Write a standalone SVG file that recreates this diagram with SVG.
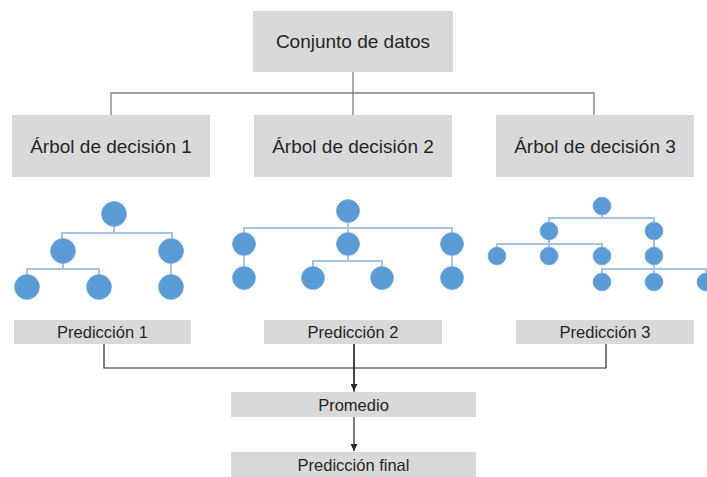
<svg xmlns="http://www.w3.org/2000/svg" width="707" height="477" viewBox="0 0 707 477">
<defs>
<style>
.box{fill:#D9D9D9}
.t{font-family:"Liberation Sans",Arial,sans-serif;fill:#262626;text-anchor:middle}
.big{font-size:19px}
.sm{font-size:16.5px}
.top{fill:none;stroke:#7F7F7F;stroke-width:1.3}
.bot{fill:none;stroke:#262626;stroke-width:1.2}
.tl{fill:none;stroke:#A5C4E4;stroke-width:2}
.c{fill:#5B9BD5;stroke:#7FB0DE;stroke-width:0.8}
</style>
<marker id="arr" viewBox="0 0 10 10" refX="10" refY="5" markerWidth="7" markerHeight="7" markerUnits="userSpaceOnUse" orient="auto">
<path d="M0,0 L10,5 L0,10 z" fill="#262626"/>
</marker>
</defs>
<rect width="707" height="477" fill="#FFFFFF"/>
<g id="connectors">
<path class="top" d="M353,72 V116 M111,116 V93 H594 V116"/>
<path class="bot" d="M104,344 V368 H606 V344 M354,344 V392"/>
<path class="bot" d="M354,344 V391" marker-end="url(#arr)"/>
<path class="bot" d="M354,417 V451" marker-end="url(#arr)"/>
</g>
<g id="dataset"><rect class="box" x="253" y="11" width="200" height="61"/><text class="t big" x="353" y="48">Conjunto de datos</text></g>
<g id="tree1"><rect class="box" x="12" y="115" width="198" height="62"/><text class="t big" x="111" y="153">Árbol de decisión 1</text></g>
<g id="tree2"><rect class="box" x="254" y="115" width="198" height="62"/><text class="t big" x="353" y="153">Árbol de decisión 2</text></g>
<g id="tree3"><rect class="box" x="496" y="115" width="198" height="62"/><text class="t big" x="595" y="153">Árbol de decisión 3</text></g>
<g id="graph1">
<path class="tl" d="M114,214 V233 M62,251 V233 H172 V251 M63,251 V269 M27,287 V269 H99 V287 M171,251 V287"/>
<circle class="c" cx="114" cy="214" r="12.5"/>
<circle class="c" cx="63" cy="251" r="12.5"/>
<circle class="c" cx="171" cy="251" r="12.5"/>
<circle class="c" cx="27" cy="287" r="12.5"/>
<circle class="c" cx="99" cy="287" r="12.5"/>
<circle class="c" cx="171" cy="287" r="12.5"/>
</g>
<g id="graph2">
<path class="tl" d="M348,211 V228 M244,244 V228 H452 V244 M348,228 V244 M244,244 V278 M452,244 V278 M348,244 V261 M313,278 V261 H382 V278"/>
<circle class="c" cx="348" cy="211" r="11.5"/>
<circle class="c" cx="244" cy="244" r="11.5"/>
<circle class="c" cx="348" cy="244" r="11.5"/>
<circle class="c" cx="452" cy="244" r="11.5"/>
<circle class="c" cx="244" cy="278" r="11.5"/>
<circle class="c" cx="313" cy="278" r="11.5"/>
<circle class="c" cx="382" cy="278" r="11.5"/>
<circle class="c" cx="452" cy="278" r="11.5"/>
</g>
<g id="graph3">
<path class="tl" d="M602,206 V218 M549,231 V218 H654 V231 M549,231 V244 M497,256 V244 H602 V256 M549,244 V256 M654,231 V282 M602,282 V269 H706 V282"/>
<circle class="c" cx="602" cy="206" r="9"/>
<circle class="c" cx="549" cy="231" r="9"/>
<circle class="c" cx="654" cy="231" r="9"/>
<circle class="c" cx="497" cy="256" r="9"/>
<circle class="c" cx="549" cy="256" r="9"/>
<circle class="c" cx="602" cy="256" r="9"/>
<circle class="c" cx="654" cy="256" r="9"/>
<circle class="c" cx="602" cy="282" r="9"/>
<circle class="c" cx="654" cy="282" r="9"/>
<circle class="c" cx="706" cy="282" r="9"/>
</g>
<g id="pred1"><rect class="box" x="14" y="320" width="177" height="24"/><text class="t sm" x="102.5" y="338">Predicción 1</text></g>
<g id="pred2"><rect class="box" x="264" y="320" width="178" height="24"/><text class="t sm" x="353" y="338">Predicción 2</text></g>
<g id="pred3"><rect class="box" x="516" y="320" width="178" height="24"/><text class="t sm" x="605" y="338">Predicción 3</text></g>
<g id="promedio"><rect class="box" x="231" y="392" width="245" height="25"/><text class="t sm" x="353.5" y="410.5">Promedio</text></g>
<g id="final"><rect class="box" x="231" y="452" width="245" height="25"/><text class="t sm" x="353.5" y="471">Predicción final</text></g>
</svg>
